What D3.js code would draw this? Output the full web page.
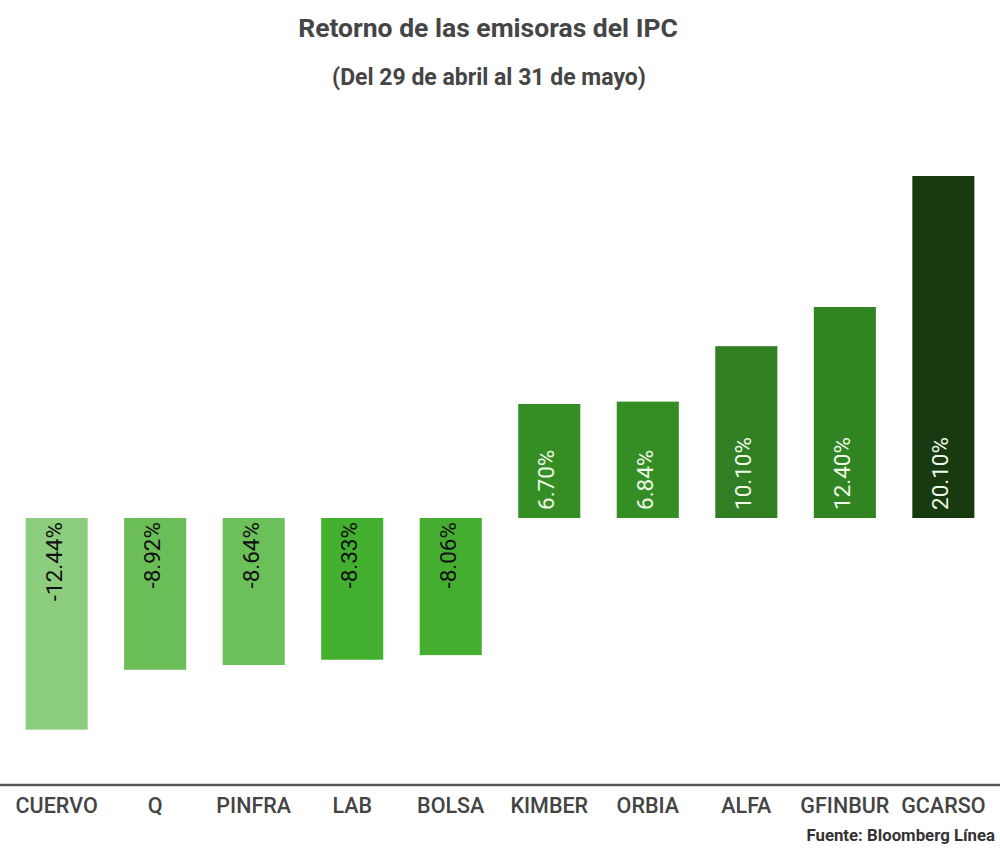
<!DOCTYPE html>
<html><head><meta charset="utf-8">
<script src="https://cdn.jsdelivr.net/npm/d3@7"></script>
<style>body{margin:0;background:#fff}svg{display:block;font-family:Roboto,"Noto Sans",sans-serif}</style>
</head><body>
<svg id="c" width="1000" height="856"></svg>
<script>
const categories = ["CUERVO","Q","PINFRA","LAB","BOLSA","KIMBER","ORBIA","ALFA","GFINBUR","GCARSO"];
const values = [-12.44,-8.92,-8.64,-8.33,-8.06,6.70,6.84,10.10,12.40,20.10];
const barColors = ["#8dcd7e","#6abd57","#6cc05a","#44b02f","#45ae30","#358e24","#358e24","#307f22","#318422","#183a10"];
const labelColors = ["#111","#111","#111","#111","#111","#eef8e8","#eef8e8","#eef8e8","#eef8e8","#eef8e8"];
const title = "Retorno de las emisoras del IPC";
const subtitle = "(Del 29 de abril al 31 de mayo)";
const source = "Fuente: Bloomberg Línea";

const svg = d3.select("#c");
const x = d3.scaleBand().domain(categories).range([0,1000]).paddingInner(0.37).paddingOuter(0.26);
const y = d3.scaleLinear().domain([0,20.10]).range([518,176]);

svg.append("text").attr("x",488).attr("y",37).attr("text-anchor","middle")
  .attr("font-size",26.5).attr("font-weight","bold").attr("fill","#454545").text(title);
svg.append("text").attr("x",489).attr("y",85).attr("text-anchor","middle")
  .attr("font-size",23).attr("font-weight","bold").attr("fill","#454545").text(subtitle);

const data = categories.map((c,i)=>({c,v:values[i],col:barColors[i],lc:labelColors[i]}));

svg.selectAll("rect.bar").data(data).join("rect").attr("class","bar")
  .attr("x",d=>x(d.c)).attr("width",x.bandwidth())
  .attr("y",d=>Math.min(y(d.v),y(0))).attr("height",d=>Math.abs(y(d.v)-y(0)))
  .attr("fill",d=>d.col);

svg.selectAll("text.val").data(data).join("text").attr("class","val")
  .attr("transform",d=>{
    const cx = x(d.c)+x.bandwidth()/2;
    const yy = d.v<0 ? y(0)+4 : y(0)-8;
    return `translate(${cx+5},${yy}) rotate(-90)`;
  })
  .attr("text-anchor",d=>d.v<0?"end":"start")
  .attr("font-size",22.5).attr("fill",d=>d.lc)
  .text(d=>d.v.toFixed(2)+"%");

// baseline axis
const axisY = 785;
svg.append("line").attr("x1",0).attr("x2",1000).attr("y1",axisY).attr("y2",axisY)
  .attr("stroke","#555").attr("stroke-width",2.5);

const xAxis = d3.axisBottom(x).tickSize(0).tickPadding(0);
const ag = svg.append("g").attr("transform",`translate(0,${axisY})`).call(xAxis);
ag.select(".domain").remove();
ag.selectAll(".tick text").attr("font-size",21.5).attr("font-weight",500).attr("fill","#444")
  .attr("font-family","Roboto, sans-serif")
  .attr("dy",null).attr("y",28);

svg.append("text").attr("x",995).attr("y",841).attr("text-anchor","end")
  .attr("font-size",16.8).attr("font-weight","bold").attr("fill","#333").text(source);
</script>
</body></html>
